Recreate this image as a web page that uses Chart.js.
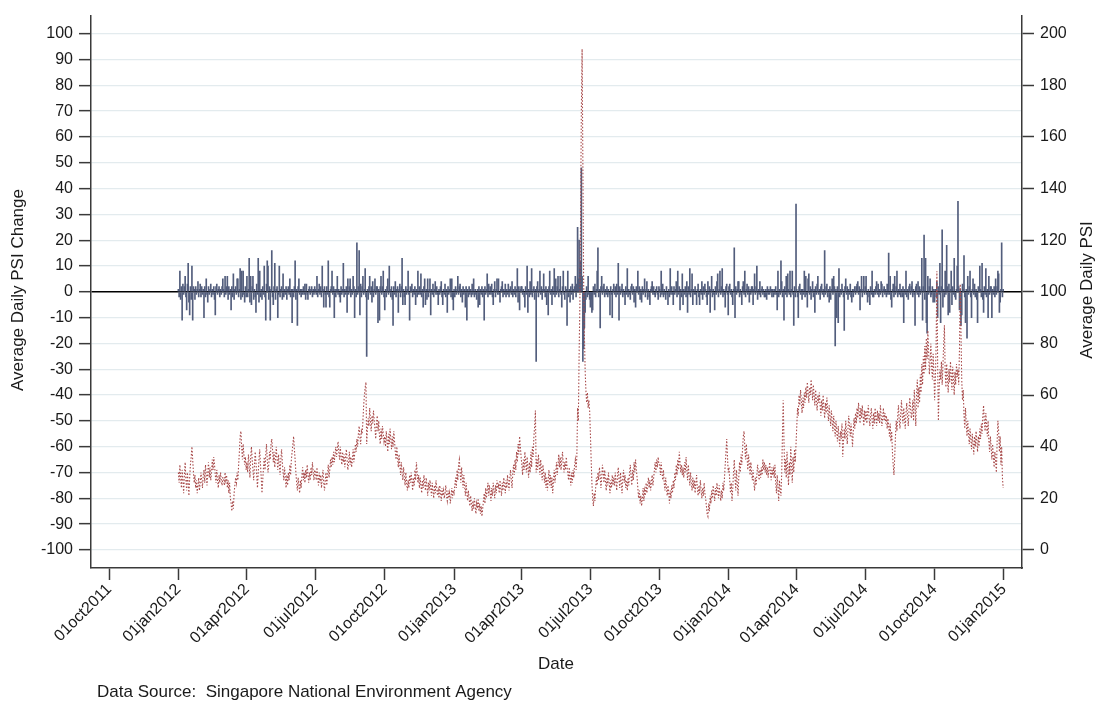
<!DOCTYPE html>
<html><head><meta charset="utf-8">
<script src="https://cdn.jsdelivr.net/npm/chart.js@4.4.1/dist/chart.umd.min.js"></script>
<style>html,body{margin:0;padding:0;background:#fff;}canvas{display:block;}</style>
</head><body>
<canvas id="c" width="1099" height="709"></canvas>
<script>
// ---- text ----
const leftTitle = 'Average Daily PSI Change';
const rightTitle = 'Average Daily PSI';
const xTitle = 'Date';
const note = 'Data Source:  Singapore National Environment Agency';

// ---- ticks ----
const xTickLabels = ['01oct2011','01jan2012','01apr2012','01jul2012','01oct2012','01jan2013','01apr2013','01jul2013','01oct2013','01jan2014','01apr2014','01jul2014','01oct2014','01jan2015'];
const leftTicks = [-100,-90,-80,-70,-60,-50,-40,-30,-20,-10,0,10,20,30,40,50,60,70,80,90,100];
const rightTicks = [0,20,40,60,80,100,120,140,160,180,200];
const seriesStart = '01jan2012';

// ---- Average Daily PSI (daily, right axis) ----
const psi2012 = [
 30,26,33,28,24,31,27,22,29,34,27,23,30,26,21,28,33,36,40,35,30,26,29,24,27,22,25,28,23,26,30,
 27,24,29,31,26,33,29,25,30,34,28,32,27,30,35,31,36,33,29,26,31,27,24,29,26,30,27,25,28,
 28,25,30,27,29,24,27,22,26,20,18,15,19,16,22,25,28,26,30,27,33,38,44,46,40,35,41,37,33,36,31,
 34,30,37,33,28,36,40,35,31,27,33,38,34,29,24,30,35,39,33,28,22,27,32,36,31,37,41,35,30,33,
 38,35,41,43,39,34,38,32,36,40,35,31,37,33,29,35,39,34,30,27,32,28,24,29,25,30,27,33,29,35,38,
 41,44,39,35,30,26,23,28,25,22,27,24,29,32,27,30,26,31,28,33,29,26,30,27,32,29,34,30,27,31,
 30,27,32,28,25,30,26,29,24,28,31,26,23,27,30,25,29,33,28,31,35,32,36,33,38,34,37,40,36,39,42,
 38,35,40,36,33,38,34,37,32,36,39,35,31,34,38,33,36,32,35,39,34,37,41,38,43,40,45,48,44,41,46,
 45,50,56,60,63,65,41,47,51,48,55,50,46,52,49,54,50,47,43,49,52,46,50,44,41,47,43,48,45,42,
 44,40,46,42,38,45,41,47,43,39,44,40,46,42,38,35,40,36,32,37,33,29,34,30,27,32,28,25,30,26,23,
 27,24,29,26,30,27,23,28,25,31,27,34,30,26,29,24,28,25,22,27,24,29,26,23,28,25,21,26,23,27,
 24,21,26,23,20,25,22,27,24,21,23,20,25,22,19,24,21,23,20,22,25,21,19,23,20,22,18,21,24,20,23
];
const psi2013 = [
 22,25,28,24,31,27,33,35,30,26,32,28,24,29,25,21,26,22,19,23,20,17,21,18,15,19,16,20,17,14,18,
 16,20,15,18,14,17,13,16,19,22,18,24,20,23,26,21,25,22,19,24,21,26,23,20,25,22,27,24,
 25,22,27,24,21,26,23,28,25,22,27,24,29,26,23,28,31,27,24,30,33,29,35,31,38,34,41,37,44,40,36,
 33,29,35,31,38,34,30,36,32,28,34,30,38,32,40,36,44,48,54,30,35,31,37,33,29,35,31,27,33,30,
 26,30,24,28,23,27,31,25,29,24,28,22,27,31,26,30,34,29,33,37,32,36,31,35,38,33,30,34,31,36,32,
 30,27,32,28,25,30,26,31,28,33,35,31,36,55,50,75,95,130,170,194,150,105,84,70,62,57,61,55,58,54,
 45,35,26,20,17,22,19,24,28,25,30,27,32,29,24,28,33,30,26,31,27,23,28,25,30,26,22,27,24,29,25,
 28,25,30,26,23,29,32,27,24,30,26,22,28,31,26,29,24,27,23,28,25,30,33,28,25,31,27,34,30,35,31,
 28,24,20,23,18,21,17,20,24,19,23,21,26,22,25,28,24,27,23,26,29,25,28,31,34,30,35,32,36,33,
 33,29,34,30,27,31,26,23,28,24,21,25,22,18,23,20,25,22,27,24,30,27,33,29,35,31,38,34,30,33,29,
 32,28,34,30,36,31,27,33,29,25,30,26,23,28,24,27,22,26,29,24,21,25,22,27,23,20,24,21,26,22,
 20,17,14,13,18,15,21,18,23,20,25,22,19,24,21,26,23,20,25,22,19,23,20,26,23,28,33,38,43,36,30
];
const psi2014 = [
 32,27,22,26,19,24,30,35,28,23,31,26,21,28,34,30,37,33,39,44,46,40,35,41,36,31,37,33,29,34,30,
 27,31,26,23,28,25,29,33,30,27,31,28,32,29,35,31,34,30,33,29,32,28,31,34,30,27,32,29,
 31,28,33,26,22,29,24,19,27,23,21,30,45,58,42,30,35,28,38,31,25,34,29,40,33,26,36,30,39,34,41,
 48,55,52,60,56,62,58,53,59,55,61,57,63,59,65,61,57,63,60,66,62,58,64,60,56,62,58,54,60,57,
 61,56,52,58,54,60,55,51,57,53,59,54,50,56,52,48,54,50,46,52,48,44,50,46,42,48,44,40,46,43,49,
 36,42,47,43,50,45,41,47,52,48,44,49,45,40,46,51,47,53,49,55,51,57,53,49,55,51,56,52,48,54,
 50,54,49,53,56,51,48,52,55,50,47,53,49,55,51,48,54,50,53,49,56,52,48,51,55,50,53,49,52,47,51,
 48,44,49,42,46,38,33,29,36,44,50,46,52,56,50,47,53,58,52,49,55,51,47,53,57,52,48,54,59,55,51,
 53,58,50,62,56,48,60,66,55,63,57,68,61,72,64,75,68,79,70,82,74,85,77,68,73,80,71,66,76,69,
 58,66,80,108,72,50,62,70,66,73,64,71,80,87,69,63,72,67,61,70,65,73,68,62,71,66,60,69,64,72,67,
 70,64,78,103,84,66,58,62,52,47,55,49,44,50,45,41,47,43,39,45,41,37,44,40,46,42,38,44,40,47,
 43,49,45,52,56,50,46,53,48,44,50,42,38,44,40,35,41,36,32,38,34,30,42,50,46,38,44,33,40,28,24
];

// ---- Average Daily PSI Change (daily, left axis) ----
const chg2012 = [
 1,-2,8,-3,2,-11,3,-1,2,6,-2,-7,3,11,-4,-9,2,-3,10,-11,2,1,-3,2,-1,1,4,-2,1,3,-2,
 2,-1,1,-10,2,-2,5,-1,-4,2,-1,1,3,-2,1,-1,2,-3,-9,2,3,-1,1,2,-2,1,-1,2,5,
 1,-2,6,-1,2,6,-3,2,-1,1,-7,2,-2,7,-3,1,2,-1,5,5,-2,1,9,-3,8,-2,8,-1,-4,2,-2,
 6,-2,1,13,-4,6,-5,2,6,-3,1,-2,-8,3,-1,13,-4,8,-2,1,-3,2,-1,10,-2,-11,3,12,10,-3,
 2,-11,1,16,-2,-5,2,11,-3,1,2,-10,-1,10,-2,1,2,-3,7,-2,1,-1,2,-3,1,2,-1,5,-2,1,-12,
 1,-2,2,12,-3,1,-13,2,5,-1,1,-2,1,-1,2,-1,3,-3,3,-1,-3,1,2,-1,1,2,-2,1,-1,2,
 1,-1,6,-2,1,3,-1,2,-2,10,1,-6,2,-1,-6,2,-1,12,-2,-6,1,2,8,-1,2,-10,1,-2,1,6,-1,
 1,-2,-4,2,-1,1,11,-2,1,-1,2,-8,5,-1,2,5,-2,1,-1,6,2,-10,1,-2,19,-1,2,16,-9,3,-2,
 2,6,-1,1,9,-2,-25,1,-3,2,6,-1,2,-4,4,-2,1,5,-1,2,2,-12,1,-11,2,6,-1,2,8,-2,
 -7,1,-2,2,5,-1,10,1,-2,2,-3,-13,2,-1,4,-2,1,2,-8,1,3,-2,2,13,-5,1,-2,-5,2,-1,1,
 8,-1,-11,2,1,3,-2,1,-1,2,-5,1,-2,8,-1,2,-1,7,-2,1,-6,2,5,-5,1,-3,5,-2,1,5,
 -9,1,-1,3,-2,1,4,-1,2,-1,-5,1,-1,2,4,-2,-5,1,-1,3,-2,1,-8,2,-1,1,5,-2,5,-3,-7
];
const chg2013 = [
 1,-2,2,-1,1,6,-1,2,3,-2,1,-4,2,-1,1,-6,2,-11,1,-2,2,-1,1,-2,3,-1,5,-2,1,-1,-3,
 1,-6,2,-5,1,-1,2,-2,1,-11,2,-1,1,7,-2,3,-1,2,-1,3,-2,-5,1,4,-2,1,5,-1,
 5,-1,-4,1,2,4,-2,1,-1,3,-2,1,-1,3,-2,1,2,-1,4,-2,1,-1,2,-2,1,9,-4,2,-7,1,2,
 2,-1,1,-2,-6,2,-1,10,-8,1,-2,4,-1,9,-2,1,2,-3,1,-27,2,4,-2,1,8,-1,2,-3,1,7,
 1,-2,2,-5,1,-9,2,8,-1,1,-5,2,-1,9,-2,5,-1,2,6,-2,1,6,-1,-6,2,8,-1,-3,2,1,-13,
 8,-2,1,-4,2,-1,3,-3,1,2,6,-2,3,25,5,20,9,12,48,6,-27,-22,-14,-8,-3,2,-2,6,-1,-3,
 -6,-3,-8,-7,2,-1,3,-2,1,8,17,-2,1,-14,2,6,-1,2,3,-2,1,-1,2,-2,1,-1,-9,2,-1,-10,1,
 3,-1,2,-2,3,-1,11,-11,2,-1,1,3,-2,1,-1,-5,2,-1,9,-2,1,-1,-3,2,3,-1,2,-4,1,-6,2,
 1,8,-1,2,-3,1,-4,2,-1,1,5,-2,1,4,-3,1,-2,-5,1,2,4,-1,2,-1,-2,1,2,-1,-3,2,
 1,-2,8,-1,3,-2,1,-1,-3,2,-1,-5,1,-2,9,-1,2,-1,-5,2,-1,1,4,-2,8,-1,2,-7,1,-2,7,
 -5,1,-1,2,-2,4,-8,2,-1,9,-2,1,7,-5,1,-1,2,-1,-5,1,3,-2,-5,1,-1,4,-3,2,-1,3,
 1,-2,-5,4,-1,2,-8,1,6,-2,1,-1,-7,2,-1,4,7,-2,1,8,-1,2,9,-2,1,-1,-6,2,3,-1,-9
];
const chg2014 = [
 2,3,-1,1,-2,-5,1,17,-10,2,-1,1,4,4,-2,1,-1,-5,2,4,-1,8,-2,1,3,-1,2,-4,1,-1,2,
 2,-5,1,7,-1,2,10,-3,1,-1,4,-2,1,2,-1,1,-2,-2,1,-3,2,-1,1,-1,2,1,-2,1,
 -2,1,-1,2,-1,-7,8,-2,1,-1,12,4,-2,1,-11,2,-1,6,-2,7,1,-1,8,-2,1,8,-1,-13,2,-2,34,
 1,-2,-10,2,3,-1,1,-3,1,-1,8,-2,6,-1,-6,5,7,-1,2,-3,1,4,-2,1,-8,2,-1,3,6,-1,
 1,-3,2,3,-1,1,-2,16,-1,2,3,-2,1,-4,2,-3,1,5,-1,6,2,-21,1,-10,2,-12,9,-2,1,-1,3,
 1,-2,-15,2,5,-1,2,-3,1,-1,3,-2,-4,1,-2,1,2,-1,2,3,4,-1,2,-7,1,6,-2,1,6,-1,
 2,6,-1,-4,1,-2,-5,2,-1,8,-2,-2,1,-1,2,4,-1,3,-2,1,-1,4,3,-2,1,2,-1,1,-2,3,-1,
 15,-1,6,-3,-6,1,3,-2,6,-1,2,8,-2,1,-1,3,-2,1,-2,2,-12,1,-1,8,-2,1,-3,2,3,-1,2,
 4,-2,1,-1,-13,2,3,-1,4,-2,2,-1,1,13,-11,2,22,-3,13,-12,-16,6,-1,2,5,-2,-1,2,-4,1,
 -4,1,-2,4,-10,2,-1,11,-12,2,24,-6,1,-2,8,-1,18,2,-9,3,-8,1,8,-5,2,-1,13,-2,-3,1,10,
 35,2,-7,1,-13,-9,3,1,14,-2,-12,1,-18,6,-1,2,8,-2,-10,1,5,-1,3,-2,1,-3,-12,2,1,10,
 1,-2,11,-3,-8,2,-1,9,-2,1,-10,6,-1,2,2,-10,1,-1,2,-2,5,-1,2,8,7,-8,-4,1,19,-2,1
];

// ---- helpers: dates -> day numbers (days since 01oct2011) ----
const MON = {jan:0,feb:1,mar:2,apr:3,may:4,jun:5,jul:6,aug:7,sep:8,oct:9,nov:10,dec:11};
const ORIGIN = Date.UTC(2011, 9, 1);
function dayNum(s){ return (Date.UTC(+s.slice(5), MON[s.slice(2,5)], +s.slice(0,2)) - ORIGIN) / 86400000; }
const xTickDays = xTickLabels.map(dayNum);
const start = dayNum(seriesStart);
const psi = psi2012.concat(psi2013, psi2014);
const chg = chg2012.concat(chg2013, chg2014);
const psiPts = psi.map((v, i) => ({x: start + i, y: v}));
const chgPts = chg.map((v, i) => ({x: start + i, y: v}));

const AX = '#3a3a3a', GRID = '#e3ebee', TXT = '#1a1a1a';
const FONT = "'Liberation Sans', Arial, Helvetica, sans-serif";
Chart.defaults.font.family = FONT;
Chart.defaults.font.size = 16;
Chart.defaults.color = TXT;

const textPlugin = {
  id: 'texts',
  afterDraw(chart) {
    const ctx = chart.ctx;
    ctx.save();
    ctx.fillStyle = TXT;
    ctx.font = '17px ' + FONT;
    ctx.textAlign = 'center';
    ctx.textBaseline = 'middle';
    ctx.save(); ctx.translate(18, 290); ctx.rotate(-Math.PI / 2); ctx.fillText(leftTitle, 0, 0); ctx.restore();
    ctx.save(); ctx.translate(1087, 290); ctx.rotate(-Math.PI / 2); ctx.fillText(rightTitle, 0, 0); ctx.restore();
    ctx.fillText(xTitle, 556, 664);
    ctx.textAlign = 'left';
    ctx.fillText(note, 97, 692);
    ctx.restore();
  }
};

new Chart(document.getElementById('c'), {
  type: 'bar',
  data: {
    datasets: [
      { type: 'line', label: rightTitle, data: psiPts, yAxisID: 'y1', xAxisID: 'x',
        borderColor: '#a84a4a', borderWidth: 1.1, borderDash: [1.5, 1.8], pointRadius: 0,
        tension: 0, fill: false, order: 0 },
      { type: 'bar', label: leftTitle, data: chgPts, yAxisID: 'y', xAxisID: 'x',
        backgroundColor: '#525d7c', barThickness: 1, order: 1 }
    ]
  },
  options: {
    responsive: false, animation: false, devicePixelRatio: 1,
    layout: { padding: { top: 7, left: 0, right: 0, bottom: 0 } },
    plugins: { legend: { display: false }, tooltip: { enabled: false } },
    scales: {
      x: {
        type: 'linear', position: 'bottom', min: -24, max: 1212, offset: false,
        grid: { display: true, offset: false, drawOnChartArea: false, drawTicks: true, tickLength: 12, tickColor: AX, tickWidth: 1.5 },
        border: { display: true, color: AX, width: 1.5 },
        ticks: { autoSkip: false, minRotation: 45, maxRotation: 45, padding: 0,
                 callback: (v, i) => xTickLabels[i] },
        afterBuildTicks: s => { s.ticks = xTickDays.map(v => ({ value: v })); },
        afterFit: s => { s.height = 141; }
      },
      y: {
        position: 'left', min: -107, max: 107,
        grid: { color: c => (c.tick && c.tick.value === 0) ? '#000000' : GRID,
                lineWidth: c => (c.tick && c.tick.value === 0) ? 1.4 : 1.3,
                drawTicks: true, tickLength: 12, tickColor: AX, tickWidth: 1.5 },
        border: { display: true, color: AX, width: 1.5 },
        ticks: { padding: 6, callback: v => String(v) },
        afterBuildTicks: s => { s.ticks = leftTicks.map(v => ({ value: v })); },
        afterFit: s => { s.width = 91; }
      },
      y1: {
        position: 'right', min: -7, max: 207,
        grid: { drawOnChartArea: false, drawTicks: true, tickLength: 12, tickColor: AX, tickWidth: 1.5 },
        border: { display: true, color: AX, width: 1.5 },
        ticks: { padding: 6, callback: v => String(v) },
        afterBuildTicks: s => { s.ticks = rightTicks.map(v => ({ value: v })); },
        afterFit: s => { s.width = 77; }
      }
    }
  },
  plugins: [textPlugin]
});
</script>
</body></html>
